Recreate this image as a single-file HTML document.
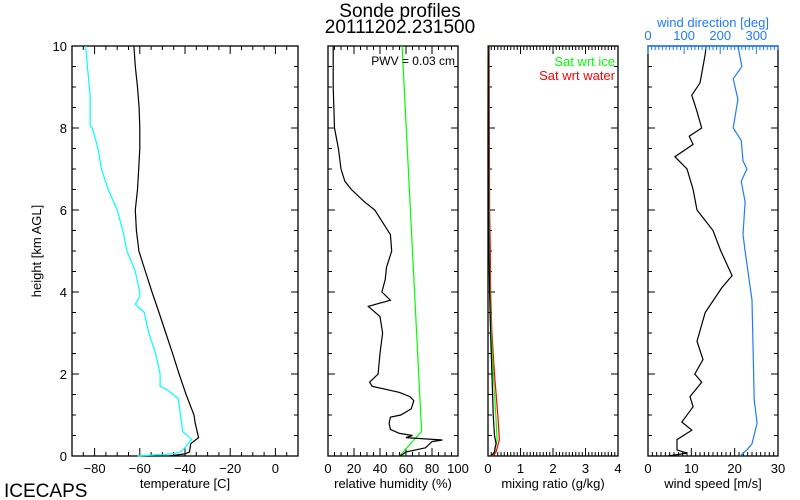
<!DOCTYPE html>
<html><head><meta charset="utf-8">
<style>
html,body{margin:0;padding:0;background:#fff;}
svg{display:block;font-family:"Liberation Sans",sans-serif;}
</style></head>
<body>
<svg id="chart" width="800" height="500" viewBox="0 0 800 500" xmlns="http://www.w3.org/2000/svg">
<rect width="800" height="500" fill="#fff"/>
<text x="400" y="17" font-size="19" text-anchor="middle">Sonde profiles</text>
<text x="400" y="33" font-size="19" text-anchor="middle">20111202.231500</text>
<text x="4" y="497" font-size="19">ICECAPS</text>
<text transform="translate(41,251) rotate(-90)" font-size="13" text-anchor="middle">height [km AGL]</text>
<g id="plots"></g>
</svg>
<script>
// ---- data ----
const tempH = [0,0.05,0.1,0.3,0.45,0.8,1,1.5,2,2.5,3,3.5,4,4.5,5,5.5,6,6.5,7,7.5,8,8.5,9,9.5,10];
const tempV = [-47,-40,-38,-37.5,-34,-35.5,-36,-39.5,-42.6,-45.5,-48.5,-51.5,-54.6,-57.5,-60.4,-61.5,-62,-61,-60.5,-60,-60,-60.3,-61,-62,-62.6];
const dewH = [0,0.05,0.1,0.2,0.35,0.4,0.6,1,1.4,1.6,1.7,2,2.5,3,3.5,3.7,3.9,4,4.5,5,5.5,6,6.5,7,7.5,8,8.05,8.8,9.4,10];
const dewV = [-61,-46,-42,-40,-38,-37,-41,-42,-43,-47.5,-51,-51,-53,-56,-58,-62,-60,-60,-62,-65.7,-67.5,-70,-74,-77,-78.5,-81,-82,-82,-83,-84];
const rhH = [0,0.05,0.1,0.2,0.35,0.39,0.45,0.5,0.55,0.65,0.8,0.95,1.0,1.15,1.35,1.45,1.55,1.7,1.8,2.0,2.5,3.0,3.4,3.65,3.8,4.0,4.3,4.6,5.0,5.4,5.7,6.0,6.2,6.5,6.7,7.0,7.5,8.0,9.0,10];
const rhV = [55,58,60,75,80,88,60,65,55,48,47,48,56,64,66,63,55,34,32,38.5,40,42,40,31,48,41.5,44,45,49,48,42,36,28,18,13,10,8,5,4,4];
const rhiH = [0,0.6,10];
const rhiV = [55,72,57];
const mrH = [0,0.1,0.2,0.3,0.5,1,1.5,2,3,4,5,6,8,10];
const mrV = [0.1,0.2,0.22,0.25,0.2,0.16,0.14,0.12,0.08,0.05,0.03,0.02,0.02,0.02];
const mriH = [0,0.1,0.4,1,2,3,4,5,6,8,10];
const mriV = [0.12,0.2,0.28,0.24,0.16,0.1,0.06,0.04,0.03,0.02,0.01];
const mrwH = [0,0.1,0.4,1,2,3,4,5,6,8,10];
const mrwV = [0.15,0.25,0.35,0.3,0.2,0.12,0.08,0.07,0.05,0.04,0.03];
const wsH = [0,0.07,0.15,0.4,0.63,0.83,1.2,1.45,1.8,2.0,2.35,2.8,3.5,4.1,4.4,5.0,5.5,6.0,6.5,7.0,7.3,7.6,7.8,8.0,8.4,8.8,9.1,9.5,9.8,10];
const wsV = [4.6,9,6.7,6.7,10.1,7.8,10.4,9.7,12.4,10.8,12.7,11.3,13.2,17,19.4,16.8,15,11.3,10.4,9,6.2,10.4,9.5,12.4,11.3,10.1,12,12.7,13.2,13.4];
const wdH = [0,0.15,0.3,0.8,1.37,2.6,3.8,5.0,5.4,6.2,6.7,7.0,7.2,7.7,8.0,8.7,9.2,9.5,10];
const wdV = [255,274,288,302,294,291,288,269,263,269,258,274,263,258,236,249,236,260,249];
const tempTicks = [-80,-60,-40,-20,0];
const rhTicks = [0,20,40,60,80,100];
const mrTicks = [0,1,2,3,4];
const wsTicks = [0,10,20,30];
const wdTicks = [0,100,200,300];
const hTicks = [0,2,4,6,8,10];

const NS = "http://www.w3.org/2000/svg";
const root = document.getElementById('plots');
const Y0 = 456, Y1 = 46;
function yS(h){ return Y0 - (h/10)*(Y0-Y1); }
function mk(tag, attrs, parent){
  const e = document.createElementNS(NS, tag);
  for (const k in attrs) e.setAttribute(k, attrs[k]);
  (parent||root).appendChild(e); return e;
}
function panel(name, x0, x1, xmin, xmax, major, minor, ticks, leftLabels){
  const g = mk('g', {});
  
  
  const xS = v => x0 + (v-xmin)/(xmax-xmin)*(x1-x0);
  const fr = mk('rect', {x:x0, y:Y1, width:x1-x0, height:Y0-Y1, fill:'none', stroke:'#000', 'stroke-width':1.3}, g);
  
  
  // y ticks
  for (let h=0; h<=10.001; h+=0.5){
    const L = (Math.abs(h/2-Math.round(h/2))<1e-6) ? 7 : 4;
    const y = yS(h);
    mk('line',{x1:x0,y1:y,x2:x0+L,y2:y,stroke:'#000'},g);
    mk('line',{x1:x1,y1:y,x2:x1-L,y2:y,stroke:'#000'},g);
  }
  if (leftLabels){
    hTicks.forEach(h=>{
      const t = mk('text',{x:x0-5,y:yS(h)+5,'font-size':13,'text-anchor':'end'},g);
      t.textContent = h;
      
      
    });
  }
  // x ticks
  const n = Math.round((xmax-xmin)/minor);
  const start = Math.ceil(xmin/minor)*minor;
  for (let v=start; v<=xmax+1e-9; v+=minor){
    const isMaj = Math.abs(v/major-Math.round(v/major))<1e-6;
    const L = isMaj ? 8 : 4;
    const x = xS(v);
    mk('line',{x1:x,y1:Y0,x2:x,y2:Y0-L,stroke:'#000'},g);
    if (!ticksTopBlue(name)) mk('line',{x1:x,y1:Y1,x2:x,y2:Y1+L,stroke:'#000'},g);
  }
  ticks.forEach(v=>{
    const t = mk('text',{x:xS(v),y:Y0+17,'font-size':13,'text-anchor':'middle'},g);
    t.textContent = (v<0? '\u2212'+(-v) : v);
    
    
  });
  return {g, xS};
}
function ticksTopBlue(n){ return n==='wind-panel'; }
function line(p, H, V, color, name){
  const pts = H.map((h,i)=> p.xS(V[i]).toFixed(1)+','+yS(h).toFixed(1)).join(' ');
  const e = mk('polyline',{points:pts, fill:'none', stroke:color, 'stroke-width':1.2}, p.g);
  
  
}
function label(x,y,txt,name,color,anchor,size){
  const t = mk('text',{x:x,y:y,'font-size':size||13,'text-anchor':anchor||'middle',fill:color||'#000'});
  t.textContent = txt;
  
  
}

// Panel 1: temperature
const p1 = panel('temperature-panel', 72, 298, -90, 10, 20, 5, tempTicks, true);
line(p1, dewH, dewV, '#00ffff', 'dewpoint-line');
line(p1, tempH, tempV, '#000', 'temperature-line');
label(185, 488, 'temperature [C]', 'temperature-x-title');

// Panel 2: RH
const p2 = panel('rh-panel', 328, 458, 0, 100, 20, 5, rhTicks, false);
line(p2, rhiH, rhiV, '#00ff00', 'rh-ice-line');
line(p2, rhH, rhV, '#000', 'rh-line');
label(455, 65, 'PWV = 0.03 cm', 'pwv-label', '#000', 'end', 12);
label(393, 488, 'relative humidity (%)', 'rh-x-title');

// Panel 3: mixing ratio
const p3 = panel('mixing-panel', 488, 618, 0, 4, 1, 0.1, mrTicks, false);
line(p3, mrwH, mrwV, '#ff0000', 'sat-water-line');
line(p3, mriH, mriV, '#00ff00', 'sat-ice-line');
line(p3, mrH, mrV, '#000', 'mixing-ratio-line');
label(615, 66, 'Sat wrt ice', 'legend-sat-ice', '#00ff00', 'end', 13);
label(615, 80, 'Sat wrt water', 'legend-sat-water', '#ff0000', 'end', 13);
label(553, 488, 'mixing ratio (g/kg)', 'mixing-x-title');

// Panel 4: wind
const p4 = panel('wind-panel', 648, 778, 0, 30, 10, 1, wsTicks, false);
line(p4, wsH, wsV, '#000', 'wind-speed-line');
const wdS = v => 648 + v/360*130;
const wdPts = wdH.map((h,i)=> wdS(wdV[i]).toFixed(1)+','+yS(h).toFixed(1)).join(' ');
const wdl = mk('polyline',{points:wdPts, fill:'none', stroke:'#1e7bff', 'stroke-width':1.2}, p4.g);


mk('line',{x1:648,y1:Y1,x2:778,y2:Y1,stroke:'#1e7bff','stroke-width':1.5}, p4.g);
for (let v=0; v<=360; v+=10){
  const L = (v%100===0)?8:4;
  mk('line',{x1:wdS(v),y1:Y1,x2:wdS(v),y2:Y1+L,stroke:'#1e7bff'}, p4.g);
}
wdTicks.forEach(v=> label(wdS(v), 40, String(v), 'wind-dir-tick-label', '#1e7bff', 'middle', 13));
label(713, 27, 'wind direction [deg]', 'wind-direction-title', '#1e7bff', 'middle', 13);
label(713, 488, 'wind speed [m/s]', 'wind-speed-x-title');
</script>
</body></html>
